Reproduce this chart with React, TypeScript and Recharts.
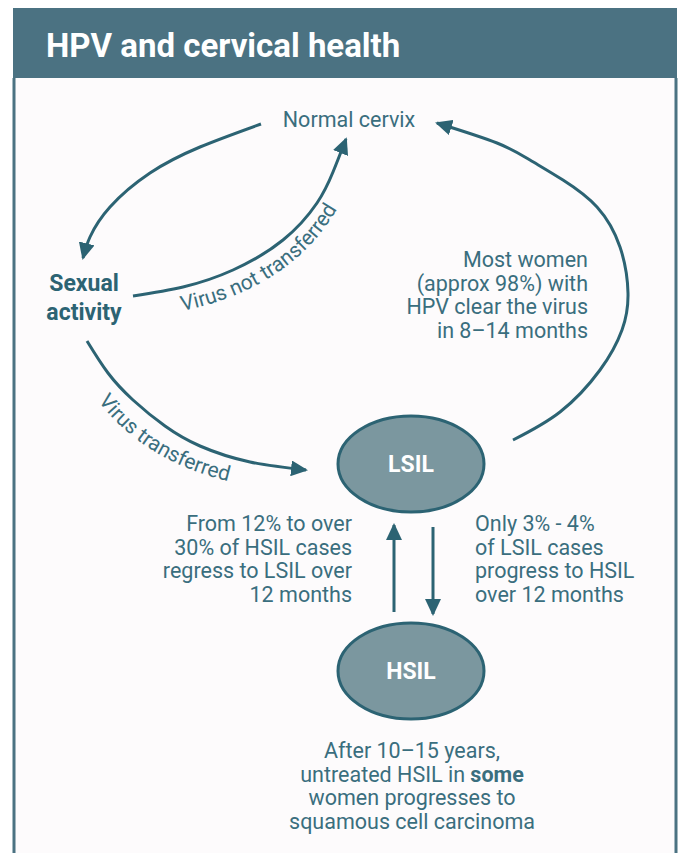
import { ComposedChart, Line, Scatter, XAxis, YAxis } from 'recharts';

// diagram points, in page pixels (axes map 1:1)
const normalToSexual = [
  { x: 261, y: 124 },
  { x: 200, y: 147 },
  { x: 150, y: 173 },
  { x: 110, y: 207 },
  { x: 90, y: 237 },
  { x: 83, y: 258 },
];
const sexualToNormal = [
  { x: 133, y: 296 },
  { x: 183, y: 287 },
  { x: 233, y: 270 },
  { x: 283, y: 240 },
  { x: 317, y: 203 },
  { x: 333, y: 172 },
  { x: 346, y: 139 },
];
const sexualToLsil = [
  { x: 87, y: 341 },
  { x: 108, y: 373 },
  { x: 133, y: 400 },
  { x: 165, y: 426 },
  { x: 200, y: 446 },
  { x: 250, y: 462 },
  { x: 306, y: 470 },
];
const lsilToNormal = [
  { x: 513, y: 440 },
  { x: 560, y: 412 },
  { x: 600, y: 370 },
  { x: 622, y: 330 },
  { x: 628, y: 293 },
  { x: 620, y: 247 },
  { x: 597, y: 207 },
  { x: 563, y: 180 },
  { x: 530, y: 160 },
  { x: 497, y: 143 },
  { x: 437, y: 123 },
];
const hsilToLsil = [
  { x: 394, y: 612 },
  { x: 394, y: 525 },
];
const lsilToHsil = [
  { x: 433, y: 527 },
  { x: 433, y: 614 },
];
const stages = [
  { x: 411, y: 464, name: 'LSIL' },
  { x: 411, y: 671, name: 'HSIL' },
];

const clearText = ['Most women', '(approx 98%) with', 'HPV clear the virus', 'in 8–14 months'];
const regressText = ['From 12% to over', '30% of HSIL cases', 'regress to LSIL over', '12 months'];
const progressText = ['Only 3% - 4%', 'of LSIL cases', 'progress to HSIL', 'over 12 months'];
const cancerText = ['After 10–15 years,', 'untreated HSIL in ', 'women progresses to', 'squamous cell carcinoma'];

const INK = '#2c6373';
const TEXT = '#3a6e7e';
const FONT = 'Roboto, "Liberation Sans", sans-serif';

const arrows = [normalToSexual, sexualToNormal, sexualToLsil, lsilToNormal, hsilToLsil, lsilToHsil];

function Stage(props: any) {
  const { cx, cy, payload } = props;
  return (
    <g>
      <ellipse cx={cx} cy={cy} rx={73} ry={48} fill='#7b979f' stroke={INK} strokeWidth={3} />
      <text x={cx} y={cy + 8} textAnchor='middle' fill='#fff' fontSize={23} fontWeight={700} fontFamily={FONT}>
        {payload.name}
      </text>
    </g>
  );
}

export default function App() {
  return (
    <div style={{ position: 'absolute', left: 0, top: 0, width: 679, height: 853, background: '#fff' }}>
      <ComposedChart width={679} height={853} margin={{ top: 0, right: 0, bottom: 0, left: 0 }}>
        <defs>
          <marker
            id='head'
            markerUnits='userSpaceOnUse'
            markerWidth={17}
            markerHeight={16}
            viewBox='0 0 17 16'
            refX={15}
            refY={8}
            orient='auto'
          >
            <path d='M0,0 L17,8 L0,16 z' fill={INK} />
          </marker>
          <path id='notPath' d='M 182 311 Q 302 286 346 192' />
          <path id='yesPath' d='M 98 401 Q 148 466 242 484' />
        </defs>
        <rect x={13} y={78} width={664} height={775} fill='#fdfbfc' />
        <rect x={13} y={8} width={664} height={70} fill='#4b7282' />
        <line x1={14} y1={78} x2={14} y2={853} stroke='#4b7282' strokeWidth={3} />
        <line x1={676} y1={78} x2={676} y2={853} stroke='#4b7282' strokeWidth={3} />
        <text x={46} y={57} fill='#fff' fontSize={33} fontWeight={700} fontFamily={FONT}>
          HPV and cervical health
        </text>
        <XAxis type='number' dataKey='x' domain={[0, 679]} allowDataOverflow hide />
        <YAxis type='number' dataKey='y' domain={[0, 853]} allowDataOverflow reversed hide />
        {arrows.map((pts, i) => (
          <Line
            key={i}
            data={pts}
            dataKey='y'
            type={pts.length > 2 ? 'natural' : 'linear'}
            stroke={INK}
            strokeWidth={3}
            dot={false}
            activeDot={false}
            markerEnd='url(#head)'
            isAnimationActive={false}
          />
        ))}
        <Scatter data={stages} dataKey='y' shape={Stage} isAnimationActive={false} />
        <g fontFamily={FONT} fontSize={21.5} fill={TEXT}>
          <text x={349} y={127} textAnchor='middle'>Normal cervix</text>
          <text x={84} y={291} textAnchor='middle' fontWeight={700} fontSize={23} fill={INK}>Sexual</text>
          <text x={84} y={320} textAnchor='middle' fontWeight={700} fontSize={23} fill={INK}>activity</text>
          <text fontSize={21}>
            <textPath href='#notPath'>Virus not transferred</textPath>
          </text>
          <text fontSize={21}>
            <textPath href='#yesPath'>Virus transferred</textPath>
          </text>
          {clearText.map((t, i) => (
            <text key={t} x={588} y={267 + i * 23.7} textAnchor='end'>{t}</text>
          ))}
          {regressText.map((t, i) => (
            <text key={t} x={352} y={531 + i * 23.7} textAnchor='end'>{t}</text>
          ))}
          {progressText.map((t, i) => (
            <text key={t} x={475} y={531 + i * 23.7}>{t}</text>
          ))}
          {cancerText.map((t, i) => (
            <text key={t} x={412} y={758 + i * 23.5} textAnchor='middle'>
              {t}
              {i === 1 ? <tspan fontWeight={700}>some</tspan> : null}
            </text>
          ))}
        </g>
      </ComposedChart>
    </div>
  );
}
